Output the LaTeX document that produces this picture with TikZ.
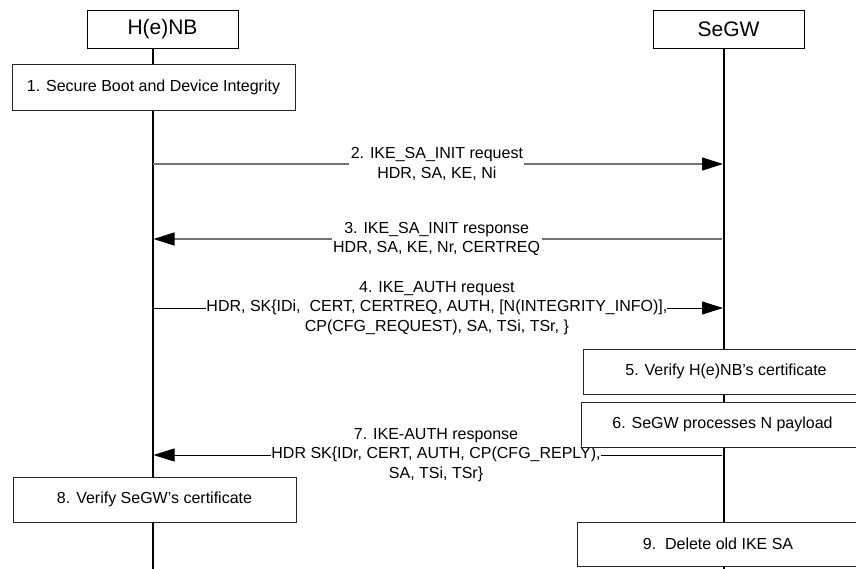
\documentclass[tikz,border=0pt]{standalone}
\usepackage{fontspec}
\setmainfont{Liberation Sans}
\usetikzlibrary{arrows.meta}
\begin{document}
\begin{tikzpicture}[x=1pt,y=-1pt,
  headbox/.style={draw=black, line width=1pt, fill=white, minimum width=151pt, minimum height=38pt, inner sep=0pt, font=\fontsize{21}{24}\selectfont},
  procbox/.style={draw=black!85, line width=1pt, fill=white, inner sep=0pt, font=\fontsize{16}{19}\selectfont},
  lifeline/.style={line width=1.8pt, black},
  msggray/.style={line width=1.3pt, black!55, -{Triangle[length=21pt,width=13pt,color=black,fill=black]}},
  msgblack/.style={line width=1pt, black, -{Triangle[length=21pt,width=13pt,color=black,fill=black]}},
  lbl/.style={fill=white, inner xsep=1.5pt, inner ysep=0pt, align=center, text=black, font=\fontsize{16}{19.5}\selectfont}]
\useasboundingbox (0,0) rectangle (856,568);
\fill[white] (0,0) rectangle (856,568);
\clip (0,0) rectangle (856,568);

% lifeline end points
\coordinate (hTop) at (153,48);
\coordinate (hBot) at (153,569);
\coordinate (sTop) at (724,48);
\coordinate (sBot) at (724,569);

\draw[lifeline] (hTop) -- (hBot);
\draw[lifeline] (sTop) -- (sBot);

% message anchor points on the lifelines
\coordinate (h2) at (153,164);  \coordinate (s2) at (723,164);
\coordinate (s3) at (722,239);  \coordinate (h3) at (153.5,239);
\coordinate (h4) at (153,308);  \coordinate (s4) at (723,308);
\coordinate (s7) at (722,455);  \coordinate (h7) at (153.5,455);

\draw[msggray] (h2) -- (s2) node[lbl, pos=0.498] (m2) {2. IKE\_SA\_INIT request\\HDR, SA, KE, Ni};
\draw[msggray] (s3) -- (h3) node[lbl, pos=0.502] (m3) {3. IKE\_SA\_INIT response\\HDR, SA, KE, Nr, CERTREQ};
\draw[msgblack] (h4) -- (s4) node[lbl, inner xsep=0pt, pos=0.498] (m4) {4. IKE\_AUTH request\\HDR, SK\{IDi,\ \ CERT, CERTREQ, AUTH, [N(INTEGRITY\_INFO)],\\CP(CFG\_REQUEST), SA, TSi, TSr, \}};
\draw[msgblack] (s7) -- (h7) node[lbl, inner xsep=0pt, pos=0.503] (m7) {7. IKE-AUTH response\\HDR SK\{IDr, CERT, AUTH, CP(CFG\_REPLY),\\SA, TSi, TSr\}};

% headers
\node[headbox] (henb) at (162.5,29) {H(e)NB};
\node[headbox] (segw) at (728.5,29) {SeGW};

% processing boxes
\node[procbox, minimum width=283pt, minimum height=46pt] (b1) at (153.5,87) {1. Secure Boot and Device Integrity};
\node[procbox, minimum width=286pt, minimum height=45pt] (b5) at (726,371.5) {5. Verify H(e)NB’s certificate};
\node[procbox, minimum width=283pt, minimum height=45pt] (b6) at (722.5,424.5) {6. SeGW processes N payload};
\node[procbox, minimum width=283pt, minimum height=45pt] (b8) at (154.5,499.5) {8. Verify SeGW’s certificate};
\node[procbox, minimum width=282pt, minimum height=44pt] (b9) at (718,544) {9.\ \ Delete old IKE SA};
\end{tikzpicture}
\end{document}
